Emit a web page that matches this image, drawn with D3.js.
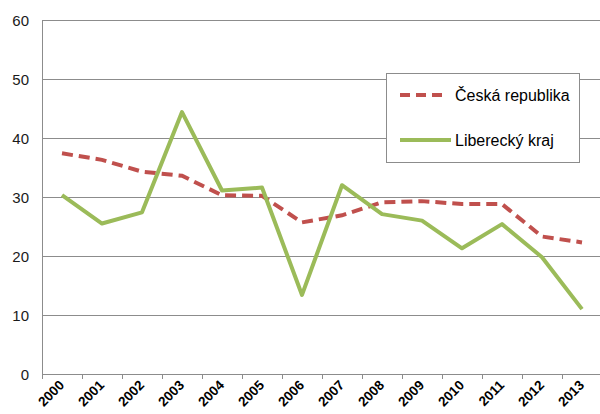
<!DOCTYPE html>
<html>
<head>
<meta charset="utf-8">
<script src="https://cdn.jsdelivr.net/npm/d3@7"></script>
<style>
  body { margin: 0; background: #fff; }
  svg { display: block; font-family: "Liberation Sans", Arial, sans-serif; }
</style>
</head>
<body>
<svg id="chart" width="600" height="414"></svg>
<script>
// Years on the category axis
const years = ["2000","2001","2002","2003","2004","2005","2006","2007","2008","2009","2010","2011","2012","2013"];
// Česká republika series
const ceskaRepublika = [37.4, 36.3, 34.3, 33.6, 30.3, 30.2, 25.7, 26.9, 29.1, 29.3, 28.8, 28.8, 23.3, 22.3];
// Liberecký kraj series
const libereckyKraj = [30.3, 25.5, 27.4, 44.4, 31.1, 31.6, 13.4, 32.0, 27.1, 26.0, 21.3, 25.4, 19.8, 11.0];
const yTicks = [0, 10, 20, 30, 40, 50, 60];
const seriesNames = ["Česká republika", "Liberecký kraj"];

const svg = d3.select("#chart");
const plotLeft = 42, plotRight = 602, plotTop = 20, plotBottom = 374;

const x = d3.scaleBand().domain(years).range([plotLeft, plotRight]).padding(0);
const y = d3.scaleLinear().domain([0, 60]).range([plotBottom, plotTop]);

// horizontal gridlines
svg.append("g").selectAll("line").data(yTicks.filter(d => d > 0)).join("line")
  .attr("x1", plotLeft).attr("x2", 600)
  .attr("y1", d => y(d) + 0.5).attr("y2", d => y(d) + 0.5)
  .attr("stroke", "#8c8c8c").attr("stroke-width", 1);

// y tick labels
svg.append("g").selectAll("text").data(yTicks).join("text")
  .attr("x", 29).attr("y", d => y(d) + 5.5)
  .attr("text-anchor", "end")
  .attr("font-size", 15).attr("fill", "#1a1a1a")
  .text(d => d);

// y axis line
svg.append("line")
  .attr("x1", plotLeft + 0.5).attr("x2", plotLeft + 0.5)
  .attr("y1", plotTop).attr("y2", plotBottom)
  .attr("stroke", "#8c8c8c");

// x axis line and ticks
svg.append("line")
  .attr("x1", plotLeft).attr("x2", 600)
  .attr("y1", plotBottom + 0.5).attr("y2", plotBottom + 0.5)
  .attr("stroke", "#8c8c8c");
const boundaries = years.map(d => x(d)).concat([x(years[years.length - 1]) + x.bandwidth()]);
svg.append("g").selectAll("line").data(boundaries).join("line")
  .attr("x1", d => Math.round(d) + 0.5).attr("x2", d => Math.round(d) + 0.5)
  .attr("y1", plotBottom).attr("y2", plotBottom + 5)
  .attr("stroke", "#8c8c8c");

// x tick labels, rotated
svg.append("g").selectAll("text").data(years).join("text")
  .attr("transform", d => `translate(${x(d) + x.bandwidth() / 2 + 3},${plotBottom + 12}) rotate(-45)`)
  .attr("text-anchor", "end")
  .attr("font-size", 13.5).attr("font-weight", "bold").attr("fill", "#000")
  .text(d => d);

const cx = d => x(d) + x.bandwidth() / 2;
const line = d3.line().x((d, i) => cx(years[i])).y(d => y(d));

svg.append("path").datum(ceskaRepublika)
  .attr("d", line).attr("fill", "none")
  .attr("stroke", "#C0504D").attr("stroke-width", 4)
  .attr("stroke-dasharray", "11,6");

svg.append("path").datum(libereckyKraj)
  .attr("d", line).attr("fill", "none")
  .attr("stroke", "#9BBB59").attr("stroke-width", 4)
  .attr("stroke-linejoin", "round");

// legend
const lg = svg.append("g");
lg.append("rect").attr("x", 386.5).attr("y", 73.5).attr("width", 193).attr("height", 89)
  .attr("fill", "#fff").attr("stroke", "#8c8c8c");
lg.append("line").attr("x1", 400).attr("x2", 444).attr("y1", 95).attr("y2", 95)
  .attr("stroke", "#C0504D").attr("stroke-width", 4).attr("stroke-dasharray", "10,6");
lg.append("line").attr("x1", 400).attr("x2", 451).attr("y1", 140).attr("y2", 140)
  .attr("stroke", "#9BBB59").attr("stroke-width", 4);
lg.append("text").attr("x", 455).attr("y", 101).attr("font-size", 16).attr("fill", "#000").text(seriesNames[0]);
lg.append("text").attr("x", 455).attr("y", 146).attr("font-size", 16).attr("fill", "#000").text(seriesNames[1]);
</script>
</body>
</html>
